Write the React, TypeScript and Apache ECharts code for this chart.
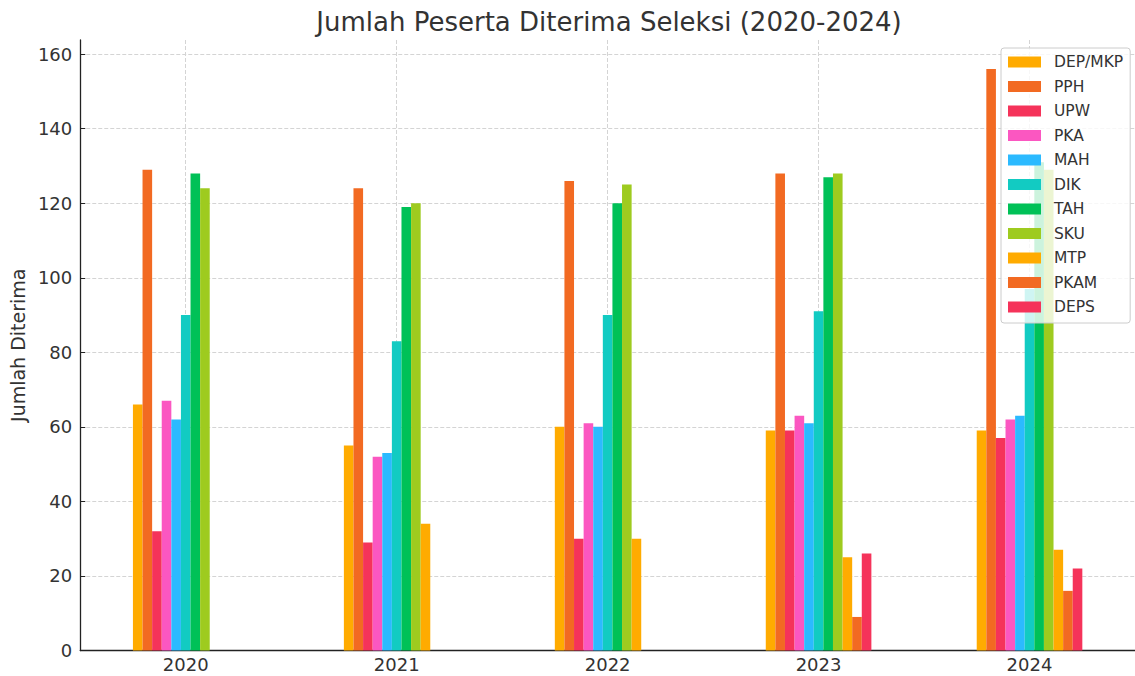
import React, { useEffect, useRef } from "react";
import * as echarts from "echarts";

const years = ["2020", "2021", "2022", "2023", "2024"];
const yTicks = [0, 20, 40, 60, 80, 100, 120, 140, 160];

const depMkp = [66, 55, 60, 59, 59];
const pph = [129, 124, 126, 128, 156];
const upw = [32, 29, 30, 59, 57];
const pka = [67, 52, 61, 63, 62];
const mah = [62, 53, 60, 61, 63];
const dik = [90, 83, 90, 91, 97];
const tah = [128, 119, 120, 127, 131];
const sku = [124, 120, 125, 128, 129];
const mtp = [null, 34, 30, 25, 27];
const pkam = [null, null, null, 9, 16];
const deps = [null, null, null, 26, 22];

const seriesNames = ["DEP/MKP", "PPH", "UPW", "PKA", "MAH", "DIK", "TAH", "SKU", "MTP", "PKAM", "DEPS"];
const seriesValues = [depMkp, pph, upw, pka, mah, dik, tah, sku, mtp, pkam, deps];
const seriesColors = [
  "#ffab00", "#f26a22", "#f5335a", "#fb57c1", "#2bbaff", "#12cbc2",
  "#00c157", "#9ecb1f", "#ffab00", "#f26a22", "#f5335a",
];

const FONT = "DejaVu Sans";

export default function App() {
  const ref = useRef<HTMLDivElement>(null);
  useEffect(() => {
    if (!ref.current) return;
    const chart = echarts.init(ref.current, null, { renderer: "svg" });
    const gridLine = { show: true, lineStyle: { color: "#d4d4d4", type: [4, 2], width: 1 } };
    chart.setOption({
      animation: false,
      backgroundColor: "#ffffff",
      textStyle: { fontFamily: FONT },
      graphic: [
        {
          type: "text",
          x: 609,
          y: 22,
          style: {
            text: "Jumlah Peserta Diterima Seleksi (2020-2024)",
            fontFamily: FONT,
            fontSize: 26,
            fill: "#333333",
            textAlign: "center",
            textVerticalAlign: "middle",
          },
        },
      ],
      legend: {
        orient: "vertical",
        left: 1001,
        top: 48,
        padding: [6, 7, 8, 7],
        itemWidth: 33,
        itemHeight: 11,
        itemGap: 8.5,
        icon: "rect",
        backgroundColor: "rgba(255,255,255,0.8)",
        borderColor: "#cccccc",
        borderWidth: 1,
        borderRadius: 3,
        textStyle: { fontFamily: FONT, fontSize: 15.5, color: "#333333", lineHeight: 16, padding: [0, 0, 0, 8] },
        data: seriesNames,
      },
      grid: { left: 80, top: 40, width: 1058, height: 610.5 },
      xAxis: {
        type: "category",
        data: years,
        axisLine: { lineStyle: { color: "#222222", width: 1.3 } },
        axisTick: { inside: true, alignWithLabel: true, length: 5, lineStyle: { color: "#222222" } },
        axisLabel: { fontFamily: FONT, fontSize: 18, color: "#333333", margin: 5 },
        splitLine: { ...gridLine, alignWithLabel: true },
      },
      yAxis: {
        type: "value",
        min: 0,
        max: 163.8,
        interval: 20,
        name: "Jumlah Diterima",
        nameLocation: "middle",
        nameGap: 50,
        nameTextStyle: { fontFamily: FONT, fontSize: 19, color: "#333333" },
        axisLine: { show: true, lineStyle: { color: "#222222", width: 1.3 } },
        axisTick: { show: true, inside: true, length: 5, customValues: yTicks, lineStyle: { color: "#222222" } },
        axisLabel: { fontFamily: FONT, fontSize: 18, color: "#333333", margin: 8, customValues: yTicks },
        splitLine: gridLine,
      },
      series: seriesNames.map((name, i) => ({
        name,
        type: "bar",
        data: seriesValues[i],
        barWidth: 9.6,
        barGap: "0%",
        itemStyle: { color: seriesColors[i] },
      })),
    });
    return () => chart.dispose();
  }, []);
  return <div ref={ref} style={{ position: "fixed", left: 0, top: 0, width: 1135, height: 676 }} />;
}
